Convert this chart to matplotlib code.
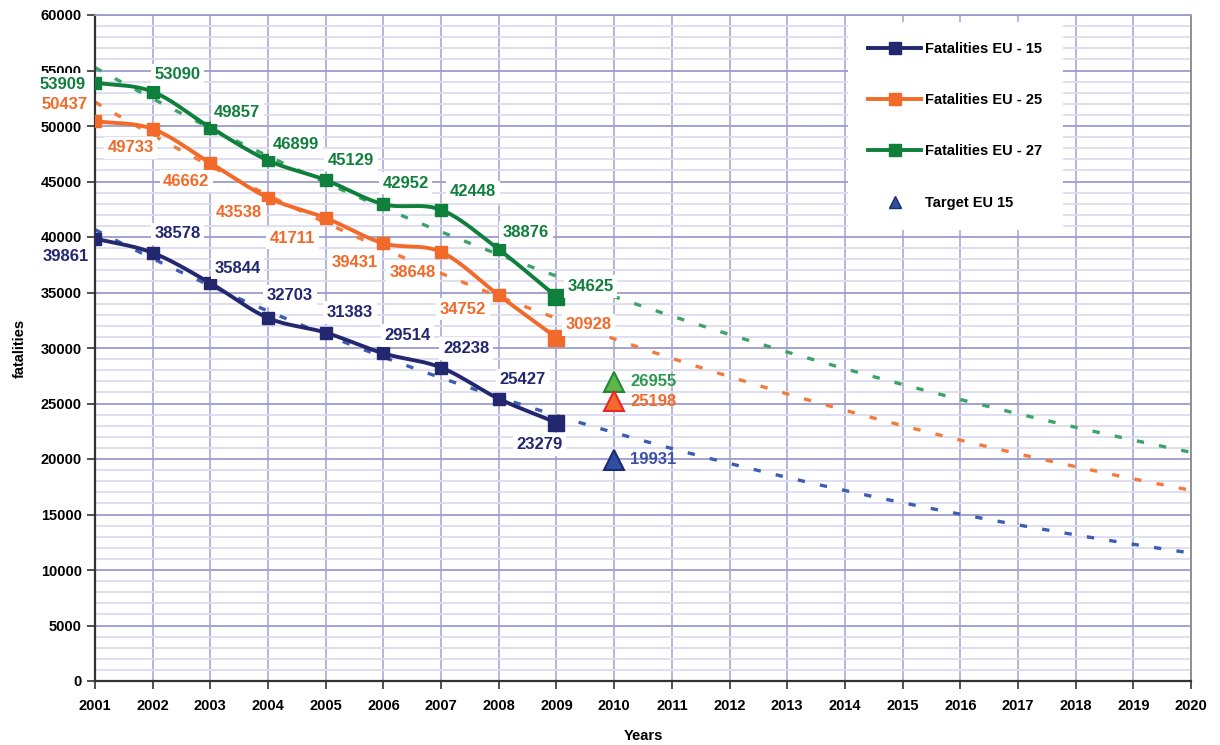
import numpy as np
import matplotlib
matplotlib.use("Agg")
import matplotlib.pyplot as plt
from matplotlib.lines import Line2D

plt.rcParams['font.family'] = ['Liberation Sans', 'DejaVu Sans']
plt.rcParams['font.weight'] = 'bold'

years = [2001, 2002, 2003, 2004, 2005, 2006, 2007, 2008, 2009]
eu15 = [39861, 38578, 35844, 32703, 31383, 29514, 28238, 25427, 23279]
eu25 = [50437, 49733, 46662, 43538, 41711, 39431, 38648, 34752, 30928]
eu27 = [53909, 53090, 49857, 46899, 45129, 42952, 42448, 38876, 34625]
target_year = 2010
targets = [26955, 25198, 19931]
x_ticks = list(range(2001, 2021))
y_ticks = list(range(0, 60001, 5000))

c15, c25, c27 = '#23276F', '#F26A2A', '#0F7F3C'
t15, t25, t27 = '#3D5DB3', '#F47A3C', '#3CA366'

# label offsets in pixels (dx, dy up)
off15 = [(-29, -18), (25, 19), (27, 15), (22, 22), (24, 20), (24, 18), (25, 19), (24, 19), (-17, -22)]
off25 = [(-30, 17), (-22, -19), (-24, -18), (-29, -15), (-33, -20), (-29, -19), (-28, -20), (-36, -14), (32, 13)]
off27 = [(-32, -2), (25, 17), (27, 15), (28, 16), (25, 20), (22, 21), (32, 18), (27, 17), (34, 10)]

fig = plt.figure(figsize=(12.2, 7.45), dpi=100)
ax = fig.add_axes([95/1220, 1-681/745, (1191-95)/1220, (681-15)/745])
ax.set_xlim(2001, 2020)
ax.set_ylim(0, 60000)


def catmull(xs, ys, n=30):
    xs = np.asarray(xs, float); ys = np.asarray(ys, float)
    P = np.column_stack([xs, ys])
    P = np.vstack([2*P[0]-P[1], P, 2*P[-1]-P[-2]])
    out = []
    for i in range(1, len(P)-2):
        p0, p1, p2, p3 = P[i-1], P[i], P[i+1], P[i+2]
        t = np.linspace(0, 1, n)[:, None]
        pts = 0.5*((2*p1) + (-p0+p2)*t + (2*p0-5*p1+4*p2-p3)*t**2 + (-p0+3*p1-3*p2+p3)*t**3)
        out.append(pts if i == 1 else pts[1:])
    out = np.vstack(out)
    return out[:, 0], out[:, 1]

# grid
ax.set_yticks(y_ticks)
ax.set_yticks(range(0, 60001, 1000), minor=True)
ax.set_xticks(x_ticks)
ax.grid(True, which='minor', axis='y', color='#DCDCF0', lw=1.3, zorder=0)
ax.grid(True, which='major', axis='y', color='#9C9CCF', lw=1.3, zorder=0)
ax.grid(True, which='major', axis='x', color='#A8A8D8', lw=1.2, zorder=0)
ax.set_axisbelow(True)
ax.tick_params(axis='y', which='minor', length=0)
ax.tick_params(axis='both', which='major', length=6, width=1.2, color='#333333', labelsize=10.5)
for lab in ax.get_xticklabels() + ax.get_yticklabels():
    lab.set_fontweight('bold')
ax.tick_params(axis='x', pad=7)
for s in ['left', 'bottom']:
    ax.spines[s].set_color('#333333'); ax.spines[s].set_linewidth(1.6)
ax.spines['right'].set_color('#8A8A8A'); ax.spines['right'].set_linewidth(1.3)
ax.spines['top'].set_color('#9C9CCF'); ax.spines['top'].set_linewidth(1.3)

# trend lines (exponential fits)
xt = np.linspace(2001, 2020, 200)
for data, col in [(eu15, t15), (eu25, t25), (eu27, t27)]:
    b, a = np.polyfit(np.array(years) - 2001, np.log(data), 1)
    ax.plot(xt, np.exp(a + b*(xt-2001)), color=col, lw=2.4, ls=(0, (2.2, 4.6)), zorder=2)

# smooth series lines
for data, col in [(eu15, c15), (eu25, c25), (eu27, c27)]:
    sx, sy = catmull(years, data)
    ax.plot(sx, sy, color=col, lw=2.8, zorder=3, solid_capstyle='round')
    ax.plot(years[:-1], data[:-1], ls='none', marker='s', ms=9, color=col, zorder=4)
    ax.plot(years[-1:], data[-1:], ls='none', marker='s', ms=11, color=col, zorder=4)

# data labels
for data, offs, col in [(eu15, off15, c15), (eu25, off25, c25), (eu27, off27, c27)]:
    for x, y, (dx, dy) in zip(years, data, offs):
        ax.annotate(str(y), (x, y), xytext=(dx, dy), textcoords='offset pixels',
                    ha='center', va='center', fontsize=12, fontweight='bold', color=col,
                    bbox=dict(boxstyle='square,pad=0.22', fc='white', ec='none'), zorder=5)

# targets
tri_styles = [('#5DB646', '#1E8A3A', '#2E9A4E'), ('#F26B2A', '#E8262B', '#F26A2A'), ('#2F4FA0', '#1E2A70', '#3D4FA6')]
for val, (fc, ec, tc) in zip(targets, tri_styles):
    ax.plot([target_year], [val], marker='^', ms=15, mfc=fc, mec=ec, mew=1.5, ls='none', zorder=6)
    ax.annotate(str(val), (target_year, val), xytext=(16, 0), textcoords='offset pixels',
                ha='left', va='center', fontsize=12, fontweight='bold', color=tc, zorder=6)

ax.set_xlabel('Years', fontsize=10.5, fontweight='bold')
ax.xaxis.set_label_coords(0.5, -(729 - 681) / 666)
ax.set_ylabel('fatalities', fontsize=10.5, fontweight='bold', labelpad=10)

handles = [
    Line2D([], [], color=c15, lw=2.8, marker='s', ms=9),
    Line2D([], [], color=c25, lw=2.8, marker='s', ms=9),
    Line2D([], [], color=c27, lw=2.8, marker='s', ms=9),
    Line2D([], [], color='#2F4FA0', ls='none', marker='^', ms=9, mec='#1E2A70'),
]
labels = ['Fatalities EU - 15', 'Fatalities EU - 25', 'Fatalities EU - 27', 'Target EU 15']
leg = ax.legend(handles, labels, loc='upper left', bbox_to_anchor=(0.687, 0.99), borderaxespad=0,
                frameon=True, fancybox=False, edgecolor='none', facecolor='white', framealpha=1,
                labelspacing=2.55, handlelength=3.6, handletextpad=0.3, borderpad=1.4,
                prop={'weight': 'bold', 'size': 10.5})
leg.set_zorder(7)

fig.savefig('out.png', dpi=100)
